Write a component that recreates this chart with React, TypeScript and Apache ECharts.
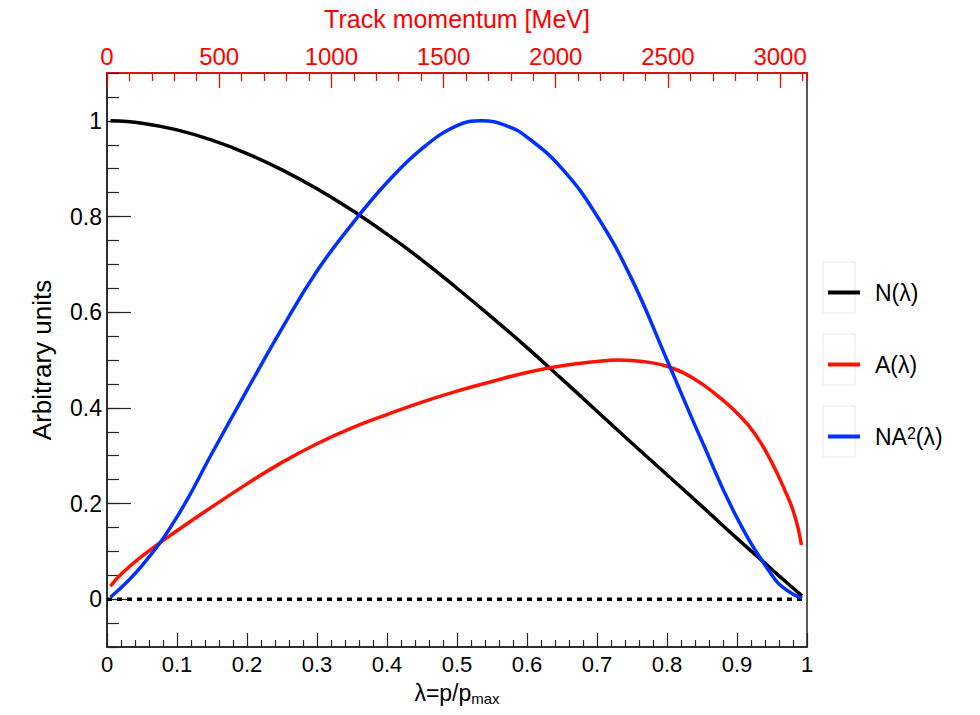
import React, { useEffect, useRef } from "react";
import * as echarts from "echarts";

// λ = p / p_max sample points
const nLambda = [0.005, 0.05, 0.1, 0.15, 0.2, 0.25, 0.3, 0.35, 0.4, 0.45, 0.5, 0.55, 0.6, 0.65, 0.7, 0.75, 0.8, 0.85, 0.9, 0.95, 0.97, 0.993];
const nValues = [1.0, 0.995, 0.981, 0.9595, 0.9315, 0.8975, 0.858, 0.813, 0.763, 0.709, 0.65, 0.589, 0.526, 0.46, 0.393, 0.326, 0.26, 0.194, 0.127, 0.062, 0.036, 0.007];

const na2Lambda = [0.005, 0.05, 0.1, 0.15, 0.2, 0.25, 0.3, 0.35, 0.4, 0.45, 0.5, 0.535, 0.57, 0.6, 0.65, 0.7, 0.75, 0.8, 0.85, 0.9, 0.95, 0.97, 0.993];
const na2Values = [0.004, 0.07, 0.172, 0.305, 0.437, 0.566, 0.686, 0.784, 0.871, 0.942, 0.99, 1.0, 0.99, 0.966, 0.9, 0.801, 0.668, 0.5, 0.33, 0.17, 0.05, 0.02, 0.002];

const aLambda = [0.005, 0.02, 0.05, 0.1, 0.15, 0.2, 0.25, 0.3, 0.35, 0.4, 0.45, 0.5, 0.55, 0.6, 0.65, 0.7, 0.73, 0.75, 0.775, 0.8, 0.825, 0.85, 0.875, 0.9, 0.925, 0.95, 0.97, 0.98, 0.988, 0.992];
const aValues = [0.027, 0.052, 0.09, 0.143, 0.193, 0.241, 0.286, 0.325, 0.358, 0.386, 0.412, 0.435, 0.455, 0.474, 0.488, 0.497, 0.5, 0.499, 0.495, 0.487, 0.472, 0.45, 0.422, 0.389, 0.347, 0.285, 0.222, 0.186, 0.144, 0.113];

const zeroX = [0, 1];
const zeroY = [0, 0];

const yLabelValues = [0, 0.2, 0.4, 0.6, 0.8, 1];
const P_MAX_MEV = 3120;

const seriesNames = ["N(λ)", "A(λ)", "NA²(λ)"];
const seriesColors = ["#000000", "#ff1100", "#0030ff"];

const FONT = "'Liberation Sans', Arial, Helvetica, sans-serif";
const AXIS_COLOR = "#222222";

function pairs(xs: number[], ys: number[]) {
  return xs.map((x, i) => [x, ys[i]]);
}

export default function App() {
  const ref = useRef<HTMLDivElement>(null);

  useEffect(() => {
    if (!ref.current) return;
    const chart = echarts.init(ref.current, undefined, { renderer: "svg" });

    const gridLeft = 107;
    const gridTop = 73;
    const gridWidth = 700;
    const gridHeight = 574;

    const lineSeries = [
      { name: seriesNames[0], data: pairs(nLambda, nValues), color: seriesColors[0] },
      { name: seriesNames[1], data: pairs(aLambda, aValues), color: seriesColors[1] },
      { name: seriesNames[2], data: pairs(na2Lambda, na2Values), color: seriesColors[2] },
    ].map((s, i) => ({
      type: "line" as const,
      name: s.name,
      data: s.data,
      xAxisIndex: 0,
      yAxisIndex: 0,
      smooth: 0.45,
      showSymbol: false,
      symbol: "none",
      itemStyle: { color: s.color },
      lineStyle: { color: s.color, width: 3.5 },
      z: 3 + i,
      silent: true,
    }));

    const legends = seriesNames.map((name, i) => ({
      data: [name],
      orient: "vertical" as const,
      left: 823,
      top: 276 + i * 72,
      itemWidth: 32,
      itemHeight: 4,
      icon: "rect",
      selectedMode: false,
      formatter: (n: string) => (n === "NA²(λ)" ? "NA{sup|2}(λ)" : n),
      textStyle: {
        fontSize: 23,
        color: "#000",
        fontFamily: FONT,
        padding: [0, 0, 0, 10],
        rich: {
          sup: { fontSize: 16, fontFamily: FONT, color: "#000", verticalAlign: "top", padding: [0, 0, 6, 0] },
        },
      },
    }));

    const boxes = seriesNames.map((_, i) => ({
      type: "rect",
      shape: { x: 823, y: 262 + i * 72, width: 32, height: 51 },
      style: { fill: "none", stroke: "#e8e8e8", lineWidth: 1 },
      silent: true,
      z: 1,
    }));

    chart.setOption({
      animation: false,
      backgroundColor: "#ffffff",
      textStyle: { fontFamily: FONT },
      grid: {
        left: gridLeft,
        top: gridTop,
        width: gridWidth,
        height: gridHeight,
        show: true,
        borderColor: AXIS_COLOR,
        borderWidth: 1.5,
        backgroundColor: "transparent",
      },
      legend: legends,
      graphic: boxes,
      xAxis: [
        {
          type: "value",
          position: "bottom",
          min: 0,
          max: 1,
          interval: 0.1,
          axisLine: { show: true, onZero: false, lineStyle: { color: AXIS_COLOR, width: 1.5 } },
          axisTick: { show: true, inside: true, length: 14, lineStyle: { color: AXIS_COLOR, width: 1.2 } },
          minorTick: { show: true, splitNumber: 5, length: 7, lineStyle: { color: AXIS_COLOR, width: 1.2 } },
          splitLine: { show: false },
          minorSplitLine: { show: false },
          axisLabel: { fontSize: 22, color: "#000", margin: 6, fontFamily: FONT, formatter: (v: number) => String(+v.toFixed(2)) },
          name: "λ=p/p{sub|max}",
          nameLocation: "middle",
          nameGap: 32,
          nameTextStyle: {
            fontSize: 23,
            color: "#000",
            fontFamily: FONT,
            rich: { sub: { fontSize: 15, fontFamily: FONT, color: "#000", verticalAlign: "bottom", padding: [12, 0, 0, 0] } },
          },
        },
        {
          type: "value",
          position: "top",
          min: 0,
          max: P_MAX_MEV,
          interval: 500,
          axisLine: { show: true, onZero: false, lineStyle: { color: "#ff0000", width: 1.5 } },
          axisTick: { show: true, inside: true, length: 15, lineStyle: { color: "#ff0000", width: 1.2 } },
          minorTick: { show: false },
          splitLine: { show: false },
          axisLabel: { fontSize: 24, color: "#ff0000", margin: 5, showMaxLabel: false, fontFamily: FONT, formatter: (v: number) => String(Math.round(v)) },
          name: "Track momentum [MeV]",
          nameLocation: "middle",
          nameGap: 42,
          nameTextStyle: { fontSize: 25, color: "#ff0000", fontFamily: FONT },
        },
        {
          type: "value",
          position: "top",
          min: 0,
          max: P_MAX_MEV,
          interval: 100,
          axisLine: { show: false, onZero: false },
          axisTick: { show: true, inside: true, length: 8, lineStyle: { color: "#ff0000", width: 1.2 } },
          axisLabel: { show: false },
          splitLine: { show: false },
        },
      ],
      yAxis: [
        {
          type: "value",
          position: "left",
          min: -0.1,
          max: 1.1,
          axisLine: { show: true, onZero: false, lineStyle: { color: AXIS_COLOR, width: 1.5 } },
          axisTick: { show: true, inside: true, length: 24, customValues: yLabelValues, lineStyle: { color: AXIS_COLOR, width: 1.2 } },
          axisLabel: { customValues: yLabelValues, fontSize: 23, color: "#000", margin: 5, fontFamily: FONT },
          splitLine: { show: false },
          name: "Arbitrary units",
          nameLocation: "middle",
          nameGap: 52,
          nameTextStyle: { fontSize: 26, color: "#000", fontFamily: FONT },
        },
        {
          type: "value",
          position: "left",
          min: -0.1,
          max: 1.1,
          interval: 0.05,
          axisLine: { show: false, onZero: false },
          axisTick: { show: true, inside: true, length: 12, lineStyle: { color: AXIS_COLOR, width: 1.2 } },
          axisLabel: { show: false },
          splitLine: { show: false },
        },
      ],
      series: [
        {
          type: "line",
          name: "zero",
          data: pairs(zeroX, zeroY),
          xAxisIndex: 0,
          yAxisIndex: 0,
          showSymbol: false,
          symbol: "none",
          silent: true,
          lineStyle: { color: "#000", width: 3.5, type: [5, 5], cap: "butt" },
          z: 2,
        },
        ...lineSeries,
      ],
    });

    return () => chart.dispose();
  }, []);

  return (
    <div
      ref={ref}
      style={{ position: "fixed", left: 0, top: 0, width: 980, height: 715, background: "#fff" }}
    />
  );
}
